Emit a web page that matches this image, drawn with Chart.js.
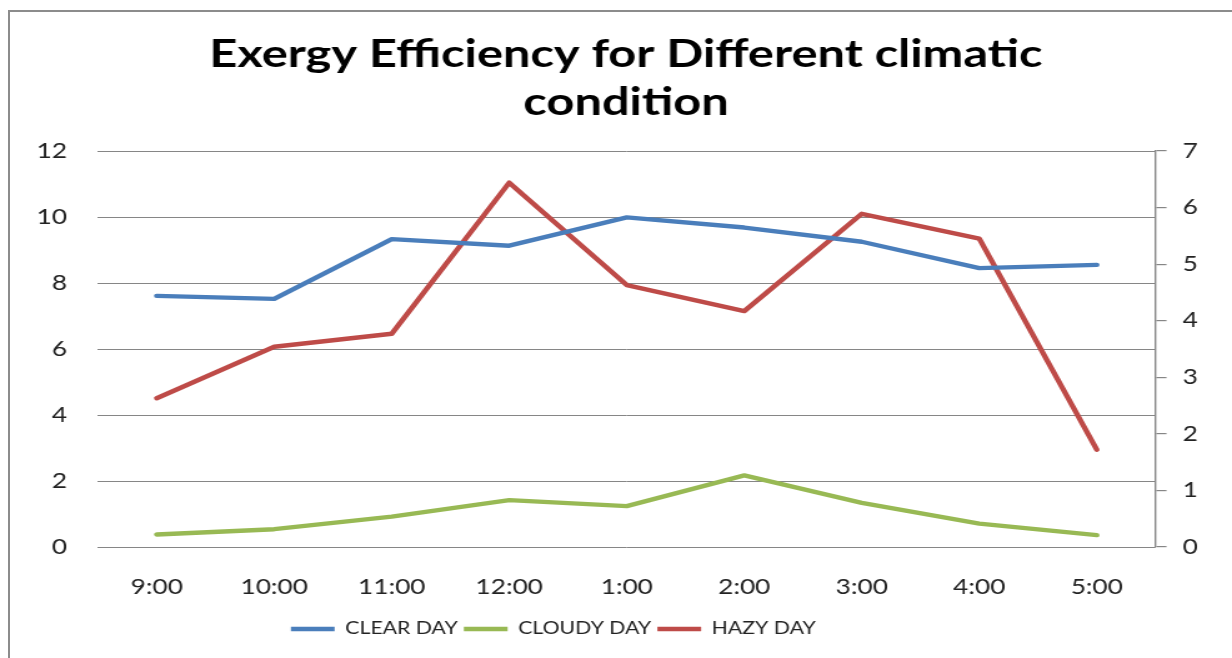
<!DOCTYPE html>
<html>
<head>
<meta charset="utf-8">
<script src="https://cdn.jsdelivr.net/npm/chart.js@4"></script>
<style>
  html, body { margin: 0; padding: 0; background: #fff; overflow: hidden; }
  #frame { position: absolute; left: 8px; top: 10px; width: 1400px; height: 800px;
           border-left: 2px solid #8c8c8c; border-top: 2px solid #8c8c8c; }
  #chart { position: absolute; left: 0; top: 0; transform-origin: 0 0; }
</style>
</head>
<body>
<div id="frame"></div>
<canvas id="chart" width="986" height="658"></canvas>
<script>
// ค่าที่อ่านจากกราฟ
const hours = ['9:00', '10:00', '11:00', '12:00', '1:00', '2:00', '3:00', '4:00', '5:00'];
const clearDay = [7.61, 7.52, 9.33, 9.13, 9.99, 9.68, 9.25, 8.45, 8.55];
const cloudyDay = [0.38, 0.54, 0.92, 1.42, 1.24, 2.17, 1.34, 0.71, 0.36];
const hazyDay = [2.63, 3.54, 3.77, 6.44, 4.63, 4.17, 5.89, 5.45, 1.72];   // แกนขวา
const leftTicks = [0, 2, 4, 6, 8, 10, 12];
const rightTicks = [0, 1, 2, 3, 4, 5, 6, 7];

// รูปต้นฉบับถูกยืดแนวนอน จึงวาดที่ 986px แล้วยืดเป็น 1232px
const stretch = 1232 / 986;
const canvas = document.getElementById('chart');
canvas.style.transform = 'scaleX(' + stretch + ')';

const font = "Lato, 'Open Sans', sans-serif";
const textColor = '#222';
const gridColor = '#868686';
const lineW = 4.4;

// วางตำแหน่งคำอธิบายให้ตรงกับต้นฉบับ
const legendShift = {
    id: 'legendShift',
    afterLayout(chart) {
        const pad = chart.options.plugins.legend.labels.padding;
        chart.legend.left = 232.8 - pad;
        chart.legend.top = 620.5 - pad;
    }
};

new Chart(canvas, {
    type: 'line',
    data: {
        labels: hours,
        datasets: [
            { label: 'CLEAR DAY', data: clearDay, borderColor: '#4a7ebb', backgroundColor: '#4a7ebb', borderWidth: lineW, yAxisID: 'y' },
            { label: 'CLOUDY DAY', data: cloudyDay, borderColor: '#98b954', backgroundColor: '#98b954', borderWidth: lineW, yAxisID: 'y' },
            { label: 'HAZY DAY', data: hazyDay, borderColor: '#be4b48', backgroundColor: '#be4b48', borderWidth: lineW, yAxisID: 'y1' }
        ]
    },
    options: {
        responsive: false,
        animation: false,
        devicePixelRatio: 1,
        layout: { padding: { left: 16, right: 0, top: 0, bottom: 23 } },
        elements: {
            line: { tension: 0, borderCapStyle: 'round', borderJoinStyle: 'round', fill: false },
            point: { radius: 0, hoverRadius: 0 }
        },
        plugins: {
            title: {
                display: true,
                text: ['Exergy Efficiency for Different climatic', 'condition'],
                color: '#000',
                font: { family: font, size: 39, weight: 'bold', lineHeight: '48px' },
                padding: { top: 30, bottom: 25 }
            },
            legend: {
                position: 'bottom',
                align: 'start',
                labels: {
                    usePointStyle: true,
                    pointStyle: 'line',
                    pointStyleWidth: 35,
                    padding: 5,
                    color: textColor,
                    font: { family: font, size: 17 }
                }
            },
            tooltip: { enabled: false }
        },
        scales: {
            x: {
                offset: true,
                grid: { display: false },
                border: { display: false },
                ticks: { color: textColor, font: { family: font, size: 21 }, padding: 20, maxRotation: 0 },
                afterFit(scale) { scale.height = 56; }
            },
            y: {
                position: 'left',
                min: 0,
                max: 12,
                afterBuildTicks(scale) { scale.ticks = leftTicks.map(v => ({ value: v })); },
                ticks: { color: textColor, font: { family: font, size: 21 }, padding: 24.8 },
                grid: { color: gridColor, lineWidth: 1, drawTicks: false },
                border: { display: false },
                afterFit(scale) { scale.width = 62.4; }
            },
            y1: {
                position: 'right',
                min: 0,
                max: 7,
                afterBuildTicks(scale) { scale.ticks = rightTicks.map(v => ({ value: v })); },
                ticks: { color: textColor, font: { family: font, size: 21 }, padding: 13 },
                grid: { drawOnChartArea: false, drawTicks: true, tickLength: 8.8, color: gridColor, lineWidth: 1.2 },
                border: { display: true, color: gridColor, width: 1.4 },
                afterFit(scale) { scale.width = 61.2; }
            }
        }
    },
    plugins: [legendShift]
});
</script>
</body>
</html>
